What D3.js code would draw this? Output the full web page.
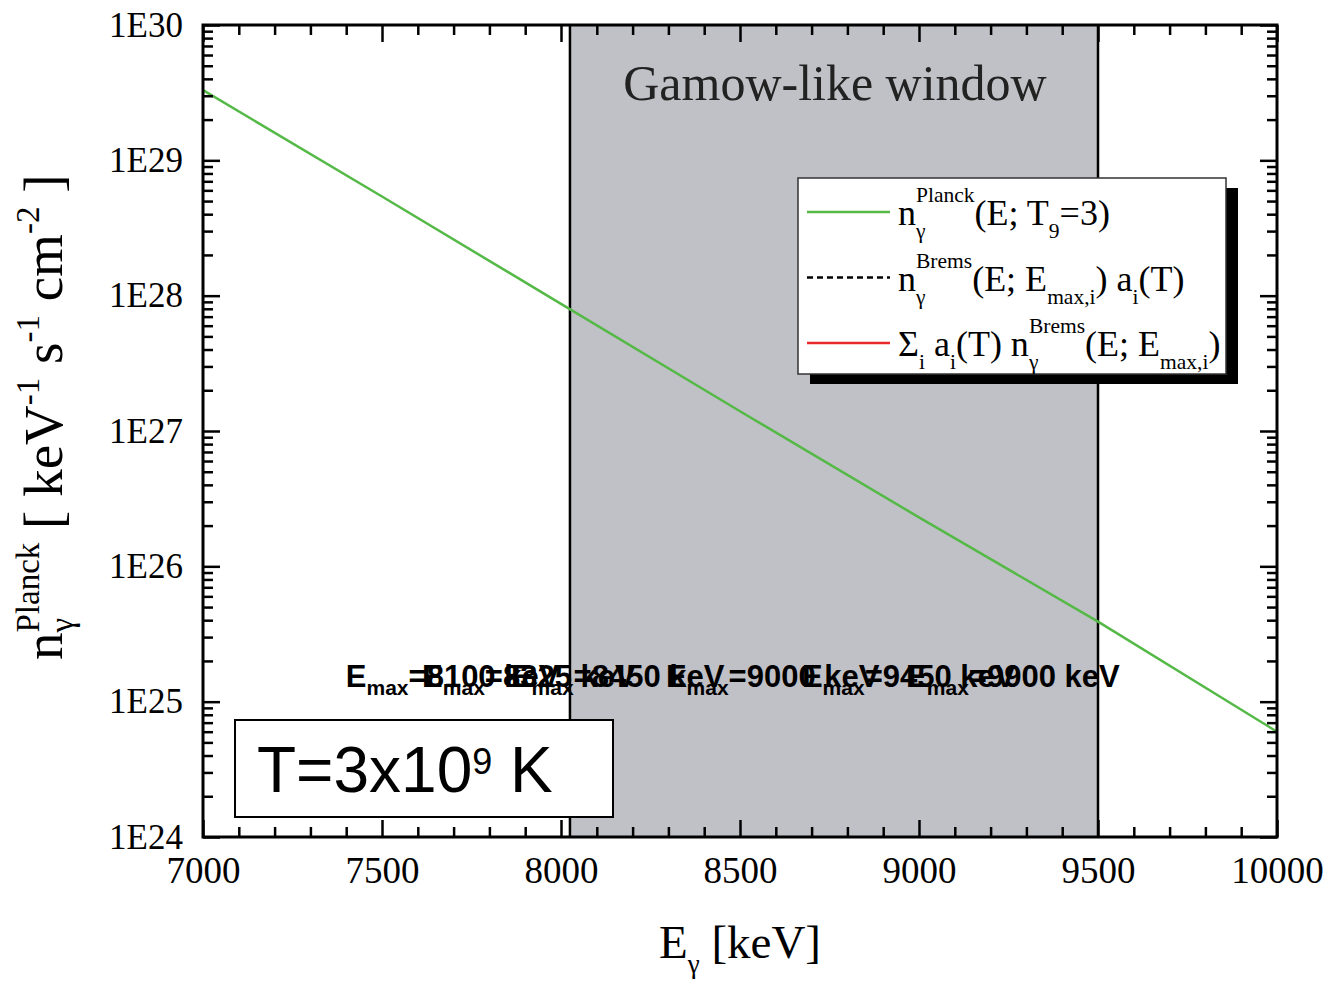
<!DOCTYPE html>
<html>
<head>
<meta charset="utf-8">
<script src="https://cdn.jsdelivr.net/npm/d3@7"></script>
<style>
  body { margin: 0; background: #fff; }
  text { white-space: pre; }
</style>
</head>
<body>
<div id="chart"></div>
<script>
// values
var energy = [7000, 7500, 8000, 8500, 9000, 9500, 10000];          // keV
var nPlanck = [3.3e29, 5.4e28, 8.7e27, 1.4e27, 2.3e26, 3.9e25, 6.0e24];
var windowRange = [8025, 9500];                                    // Gamow-like window, keV
var emaxValues = [8100, 8325, 8450, 9000, 9450, 9900];             // E_max labels, keV
var emaxAnchor = [7399, 7612, 7860, 8293, 8673, 8964];             // where each label starts, keV
var emaxLevel = 1.28e25;                                           // label baseline level
var xMajor = [7000, 7500, 8000, 8500, 9000, 9500, 10000];
var yMajor = [1e24, 1e25, 1e26, 1e27, 1e28, 1e29, 1e30];

var svgWidth = 1328;
var svgHeight = 987;
var margin = { top: 25, right: 51, bottom: 150, left: 203 };
var width = svgWidth - margin.left - margin.right;
var height = svgHeight - margin.top - margin.bottom;

var SERIF = "'Liberation Serif', 'Times New Roman', serif";
var SANS = "'Liberation Sans', Arial, sans-serif";

var svg = d3.select("#chart")
    .append("svg")
    .attr("width", svgWidth)
    .attr("height", svgHeight);

var g = svg.append("g")
    .attr("transform", "translate(" + margin.left + "," + margin.top + ")");

var x = d3.scaleLinear().domain([7000, 10000]).range([0, width]);
var y = d3.scaleLog().domain([1e24, 1e30]).range([height, 0]);

// draws text with sub/superscripts piece by piece, returns total width
function rich(parent, x0, y0, parts, opt) {
    var grp = parent.append("g")
        .attr("font-family", opt.family)
        .attr("font-weight", opt.weight || "normal")
        .attr("fill", opt.fill || "#000");
    var cx = x0;
    parts.forEach(function(p) {
        if (p.t !== undefined) {
            var t = grp.append("text").attr("x", cx).attr("y", y0)
                .attr("font-size", opt.size).text(p.t);
            cx += t.node().getComputedTextLength();
        } else {
            var w = 0;
            if (p.sup !== undefined) {
                var a = grp.append("text").attr("x", cx).attr("y", y0 - opt.up)
                    .attr("font-size", opt.small).text(p.sup);
                w = Math.max(w, a.node().getComputedTextLength());
            }
            if (p.sub !== undefined) {
                var b = grp.append("text").attr("x", cx).attr("y", y0 + opt.down)
                    .attr("font-size", opt.small).text(p.sub);
                w = Math.max(w, b.node().getComputedTextLength());
            }
            cx += w;
        }
    });
    return { g: grp, width: cx - x0 };
}

// Gamow-like window
g.append("rect")
    .attr("x", x(windowRange[0]))
    .attr("y", 0)
    .attr("width", x(windowRange[1]) - x(windowRange[0]))
    .attr("height", height)
    .style("fill", "#c0c1c6");

g.append("text")
    .attr("x", (x(windowRange[0]) + x(windowRange[1])) / 2 + 1)
    .attr("y", 75)
    .attr("text-anchor", "middle")
    .attr("font-family", SERIF)
    .attr("font-size", 50)
    .attr("fill", "#222")
    .text("Gamow-like window");

// overlapping E_max labels
emaxValues.forEach(function(v, i) {
    rich(g, x(emaxAnchor[i]), y(emaxLevel), [
        { t: "E" }, { sub: "max" }, { t: "=" + v + " keV" }
    ], { family: SANS, weight: "bold", size: 31, small: 21, up: 12, down: 8 });
});

// window edges
windowRange.forEach(function(e) {
    g.append("line")
        .attr("x1", x(e)).attr("x2", x(e))
        .attr("y1", 0).attr("y2", height)
        .style("stroke", "#000")
        .style("stroke-width", 2.5);
});

// Planck spectrum
var line = d3.line()
    .x(function(d, i) { return x(energy[i]); })
    .y(function(d) { return y(d); });

g.append("path")
    .datum(nPlanck)
    .attr("d", line)
    .style("fill", "none")
    .style("stroke", "#55b947")
    .style("stroke-width", 2.5);

// axes: ticks point inwards on all four sides
var xMinor = d3.range(7000, 10001, 100).filter(function(v) { return v % 500 !== 0; });
var yMinor = [];
for (var k = 24; k < 30; k++) {
    for (var m = 2; m <= 9; m++) yMinor.push(m * Math.pow(10, k));
}
var fmtE = function(d) { return "1E" + Math.round(Math.log10(d)); };

function styleAxis(sel) {
    sel.select(".domain").remove();
    sel.selectAll(".tick line").style("stroke", "#000").style("stroke-width", 2.5);
    sel.selectAll("text").attr("font-family", SERIF).attr("fill", "#000");
}

g.append("g").attr("transform", "translate(0," + height + ")")
    .call(d3.axisBottom(x).tickValues(xMajor).tickSize(-17).tickSizeOuter(0).tickPadding(20)
        .tickFormat(d3.format("d")))
    .call(styleAxis)
    .selectAll("text").attr("font-size", 37);
g.append("g").attr("transform", "translate(0," + height + ")")
    .call(d3.axisBottom(x).tickValues(xMinor).tickSize(-10).tickFormat(""))
    .call(styleAxis);
g.append("g")
    .call(d3.axisTop(x).tickValues(xMajor).tickSize(-17).tickFormat(""))
    .call(styleAxis);
g.append("g")
    .call(d3.axisTop(x).tickValues(xMinor).tickSize(-10).tickFormat(""))
    .call(styleAxis);

g.append("g")
    .call(d3.axisLeft(y).tickValues(yMajor).tickSize(-17).tickSizeOuter(0).tickPadding(20)
        .tickFormat(fmtE))
    .call(styleAxis)
    .selectAll("text").attr("font-size", 35);
g.append("g")
    .call(d3.axisLeft(y).tickValues(yMinor).tickSize(-10).tickFormat(""))
    .call(styleAxis);
g.append("g").attr("transform", "translate(" + width + ",0)")
    .call(d3.axisRight(y).tickValues(yMajor).tickSize(-17).tickFormat(""))
    .call(styleAxis);
g.append("g").attr("transform", "translate(" + width + ",0)")
    .call(d3.axisRight(y).tickValues(yMinor).tickSize(-10).tickFormat(""))
    .call(styleAxis);

g.append("rect")
    .attr("width", width).attr("height", height)
    .style("fill", "none")
    .style("stroke", "#000")
    .style("stroke-width", 3);

// legend
var legend = svg.append("g").attr("transform", "translate(798,178)");
legend.append("rect").attr("x", 12).attr("y", 10).attr("width", 428).attr("height", 196)
    .style("fill", "#000");
legend.append("rect").attr("width", 428).attr("height", 196)
    .style("fill", "#fff").style("stroke", "#333").style("stroke-width", 1.5);

var legendRows = [
    { color: "#55b947", dash: null, parts: [
        { t: "n" }, { sup: "Planck", sub: "γ" }, { t: "(E; T" }, { sub: "9" }, { t: "=3)" }] },
    { color: "#000", dash: "6,4", parts: [
        { t: "n" }, { sup: "Brems", sub: "γ" }, { t: "(E; E" }, { sub: "max,i" }, { t: ") a" },
        { sub: "i" }, { t: "(T)" }] },
    { color: "#e8282b", dash: null, parts: [
        { t: "Σ" }, { sub: "i" }, { t: " a" }, { sub: "i" }, { t: "(T) n" },
        { sup: "Brems", sub: "γ" }, { t: "(E; E" }, { sub: "max,i" }, { t: ")" }] }
];

legendRows.forEach(function(r, i) {
    var ly = 34 + i * 65.5;
    legend.append("line")
        .attr("x1", 9).attr("x2", 92).attr("y1", ly).attr("y2", ly)
        .style("stroke", r.color).style("stroke-width", 2.5)
        .style("stroke-dasharray", r.dash);
    rich(legend, 100, ly + 13, r.parts,
        { family: SERIF, size: 36, small: 21.5, up: 23, down: 13 });
});

// temperature box
var tbox = svg.append("g").attr("transform", "translate(235,720)");
tbox.append("rect").attr("width", 378).attr("height", 97)
    .style("fill", "#fff").style("stroke", "#000").style("stroke-width", 2);
rich(tbox, 22, 72, [{ t: "T=3x10" }, { sup: "9" }, { t: " K" }],
    { family: SANS, size: 64, small: 36, up: 18, down: 0 });

// axis titles
var xt = rich(svg, 0, 958, [{ t: "E" }, { sub: "γ" }, { t: " [keV]" }],
    { family: SERIF, size: 47, small: 27, up: 0, down: 15 });
xt.g.attr("transform", "translate(" + (740 - xt.width / 2) + ",0)");

var yt = svg.append("g").attr("transform", "translate(62,660) rotate(-90)");
rich(yt, 0, 0, [
    { t: "n" }, { sup: "Planck", sub: "γ" }, { t: " [ keV" }, { sup: "-1" }, { t: " s" },
    { sup: "-1" }, { t: " cm" }, { sup: "-2" }, { t: " ]" }
], { family: SERIF, size: 55, small: 33, up: 23, down: 11 });
</script>
</body>
</html>
